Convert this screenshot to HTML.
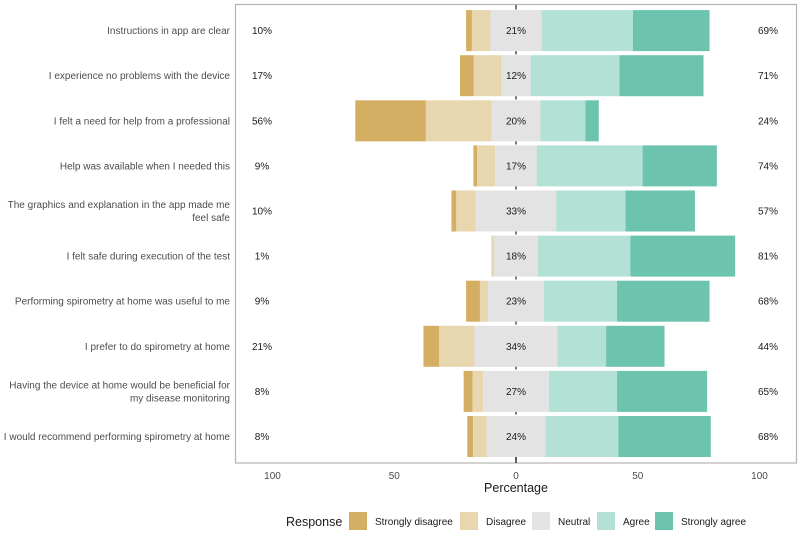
<!DOCTYPE html>
<html><head><meta charset="utf-8"><style>
body{margin:0;background:#fff;}
svg text{font-family:"Liberation Sans",sans-serif;}
</style></head><body>
<svg id="chart" width="800" height="535" xmlns="http://www.w3.org/2000/svg">
<rect x="0" y="0" width="800" height="535" fill="#fff"/>
<g id="axis0"></g>
<g id="bars"></g>
<g id="labels"></g>
<rect x="235.5" y="4.5" width="561" height="458.5" fill="none" stroke="#b3b3b3" stroke-width="1.2"/>
<g id="axis"></g>
<text x="516" y="492" text-anchor="middle" font-size="12.5" fill="#1a1a1a">Percentage</text>
<g id="legend"></g>
</svg>
<script>
const categories=["Instructions in app are clear","I experience no problems with the device","I felt a need for help from a professional","Help was available when I needed this","The graphics and explanation in the app made me|feel safe","I felt safe during execution of the test","Performing spirometry at home was useful to me","I prefer to do spirometry at home","Having the device at home would be beneficial for|my disease monitoring","I would recommend performing spirometry at home"];
const stronglyDisagree=[2.4,5.7,29,1.5,2,0.2,5.7,6.5,3.7,2.4];
const disagree=[7.6,11.3,27,7.5,8,0.8,3.3,14.5,4.3,5.6];
const neutral=[21,12,20,17,33,18,23,34,27,24];
const agree=[37.5,36.5,18.5,43.5,28.5,38,30,20,28,30];
const stronglyAgree=[31.5,34.5,5.5,30.5,28.5,43,38,24,37,38];
const leftLabels=["10%","17%","56%","9%","10%","1%","9%","21%","8%","8%"];
const midLabels=["21%","12%","20%","17%","33%","18%","23%","34%","27%","24%"];
const rightLabels=["69%","71%","24%","74%","57%","81%","68%","44%","65%","68%"];
const ticks=[-100,-50,0,50,100];
const tickText=["100","50","0","50","100"];
const seriesNames=["Strongly disagree","Disagree","Neutral","Agree","Strongly agree"];
const colors=["#d4ae62","#e8d7ae","#e3e3e3","#b3e1d6","#6cc3ae"];

const NS="http://www.w3.org/2000/svg";
const x=v=>516+v*2.435;
const yc=i=>30.6+i*45.1;
const bh=41;
function mk(tag,attrs,parent){const e=document.createElementNS(NS,tag);for(const k in attrs)e.setAttribute(k,attrs[k]);parent.appendChild(e);return e;}
const bars=document.getElementById('bars'),labels=document.getElementById('labels'),axis=document.getElementById('axis'),axis0=document.getElementById('axis0'),legend=document.getElementById('legend');

const z=mk('line',{x1:x(0),x2:x(0),y1:4.5,y2:463,stroke:'#333','stroke-width':1.3,'stroke-dasharray':'5,4'},axis0);



const series=[stronglyDisagree,disagree,neutral,agree,stronglyAgree];
categories.forEach((c,i)=>{
  const n=neutral[i];
  let left=-n/2-disagree[i]-stronglyDisagree[i];
  const starts=[left,left+stronglyDisagree[i],-n/2,n/2,n/2+agree[i]];
  series.forEach((s,k)=>{
    const r=mk('rect',{x:x(starts[k]),y:yc(i)-bh/2,width:Math.max(0,s[i]*2.435),height:bh,fill:colors[k]},bars);
    
    
  });
  const parts=c.split('|');
  const t=mk('text',{x:230,y:yc(i)+3.5-(parts.length-1)*6.5,'text-anchor':'end','font-size':'10',fill:'#4d4d4d'},labels);
  
  
  parts.forEach((p,j)=>{const ts=mk('tspan',{x:230,dy:j?13:0},t);ts.textContent=p;});
  const a=mk('text',{x:262,y:yc(i)+3.5,'text-anchor':'middle','font-size':'10',fill:'#1a1a1a'},labels);a.textContent=leftLabels[i];
  
  
  const b=mk('text',{x:516,y:yc(i)+3.5,'text-anchor':'middle','font-size':'10',fill:'#1a1a1a'},labels);b.textContent=midLabels[i];
  
  
  const d=mk('text',{x:768,y:yc(i)+3.5,'text-anchor':'middle','font-size':'10',fill:'#1a1a1a'},labels);d.textContent=rightLabels[i];
  
  
});
const zt=mk('line',{x1:x(0),x2:x(0),y1:457,y2:463,stroke:'#333','stroke-width':1.5},axis);


ticks.forEach((t,k)=>{const e=mk('text',{x:x(t),y:479,'text-anchor':'middle','font-size':'10',fill:'#4d4d4d'},axis);e.textContent=tickText[k];

});

const lt=mk('text',{x:286,y:526,'font-size':'12.5',fill:'#1a1a1a'},legend);lt.textContent='Response';


const sw=[349,460,532,597,655];
seriesNames.forEach((n,k)=>{
  const r=mk('rect',{x:sw[k],y:512,width:18,height:18,fill:colors[k]},legend);
  
  
  const t=mk('text',{x:sw[k]+26,y:525,'font-size':'10',fill:'#1a1a1a'},legend);t.textContent=n;
  
  
});
</script>
</body></html>
